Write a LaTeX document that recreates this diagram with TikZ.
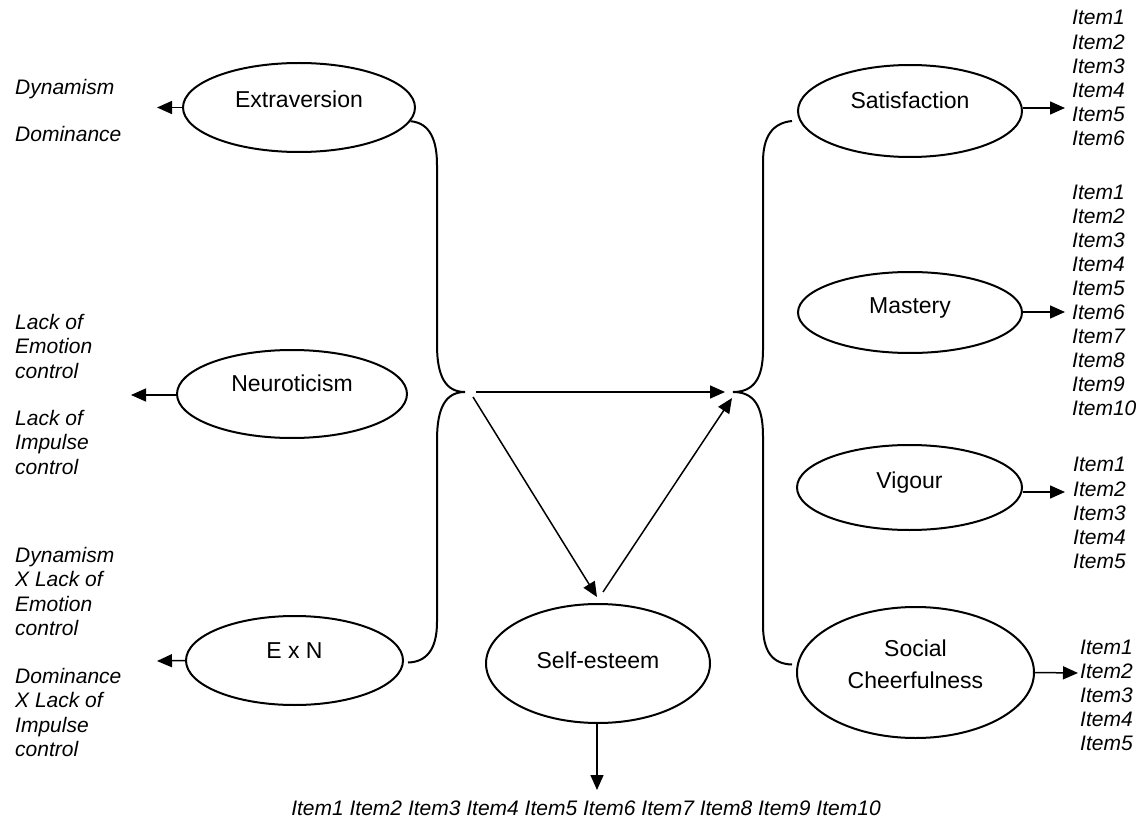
\documentclass[tikz,border=0pt]{standalone}
\usepackage{fontspec}
\setmainfont{Liberation Sans}
\usetikzlibrary{shapes.geometric,arrows.meta,calc}
\begin{document}
\begin{tikzpicture}[x=1pt,y=-1pt,
  latent/.style={ellipse,draw,line width=2pt,inner sep=0pt,align=center,font=\fontsize{23}{32}\selectfont},
  tshift/.style={text height=16.5pt,text depth=#1},
  ind/.style={inner sep=0pt,anchor=north west,align=left,font=\fontsize{21}{24.2}\selectfont\itshape},
  arr/.style={line width=1.5pt,-{Triangle[length=15pt,width=13pt]}},
  brace/.style={line width=2pt}]
\useasboundingbox (0,0) rectangle (1136,824);

% latent variables
\node[latent,tshift=17.1pt,minimum width=232pt,minimum height=89pt] (extra) at (299,107.5) {Extraversion};
\node[latent,tshift=22.1pt,minimum width=230pt,minimum height=88pt] (neuro) at (292,394) {Neuroticism};
\node[latent,tshift=21.1pt,minimum width=217pt,minimum height=89pt] (exn) at (294.5,660.5) {E x N};
\node[latent,tshift=7.1pt,minimum width=224pt,minimum height=119pt] (self) at (598,663.5) {Self-esteem};
\node[latent,tshift=22.1pt,minimum width=224pt,minimum height=92pt] (sat) at (910,111) {Satisfaction};
\node[latent,tshift=15.1pt,minimum width=224pt,minimum height=81pt] (mast) at (910,312.5) {Mastery};
\node[latent,tshift=15.1pt,minimum width=225pt,minimum height=85pt] (vig) at (909.5,487.5) {Vigour};
\node[latent,minimum width=237pt,minimum height=131pt] (soc) at (915.5,672.5) {Social\\Cheerfulness\rule[-17pt]{0pt}{17pt}};

% indicator labels, left
\node[ind] (e1) at (15,79.3) {Dynamism};
\node[ind] (e2) at (15,126.3) {Dominance};
\node[ind] (n1) at (15,314.3) {Lack of\\Emotion\\control};
\node[ind] (n2) at (15,410.3) {Lack of\\Impulse\\control};
\node[ind] (x1) at (15,547.3) {Dynamism\\X Lack of\\Emotion\\control};
\node[ind] (x2) at (15,668.3) {Dominance\\X Lack of\\Impulse\\control};

% indicator labels, right
\node[ind] (satI) at (1072,10.3) {Item1\\Item2\\Item3\\Item4\\Item5\\Item6};
\node[ind,font=\fontsize{21}{23.9}\selectfont\itshape] (mastI) at (1072,185.3) {Item1\\Item2\\Item3\\Item4\\Item5\\Item6\\Item7\\Item8\\Item9\\Item10};
\node[ind] (vigI) at (1073,457.3) {Item1\\Item2\\Item3\\Item4\\Item5};
\node[ind,font=\fontsize{21}{24}\selectfont\itshape] (socI) at (1080,640.3) {Item1\\Item2\\Item3\\Item4\\Item5};
\node[ind,anchor=north] (selfI) at (586,800.3) {Item1 Item2 Item3 Item4 Item5 Item6 Item7 Item8 Item9 Item10};

% arrow end points
\coordinate (extraT) at (157,107.5);
\coordinate (neuroT) at (131,395);
\coordinate (exnT) at (157,661);
\coordinate (satT) at (1065,108);
\coordinate (mastT) at (1065,312);
\coordinate (vigT) at (1065,492);
\coordinate (socT) at (1078,673);
\coordinate (selfT) at (597,790);

\draw[arr] (extra.west) -- (extraT);
\draw[arr] (neuro.west |- neuroT) -- (neuroT);
\draw[arr] (exn.west) -- (exnT);
\draw[arr] (sat.east |- satT) -- (satT);
\draw[arr] (mast.east |- mastT) -- (mastT);
\draw[arr] (vig.east |- vigT) -- (vigT);
\draw[arr] (soc.east) -- (socT);
\draw[arr] (self.south -| selfT) -- (selfT);

% braces
\coordinate (lt) at (465,392);
\coordinate (rt) at (733,392);
\draw[brace] (extra.-7) .. controls (430,123) and (437,140) .. (437,165) -- (437,345)
  .. controls (437,377) and (446,392) .. (lt)
  .. controls (446,392) and (437,407) .. (437,440) -- (437,622)
  .. controls (437,650) and (426,662) .. ($(exn.east)+(4,2)$);
\draw[brace] ($(sat.west)+(-5,10)$) .. controls (772,123) and (763,137) .. (763,162) -- (763,350)
  .. controls (763,378) and (754,392) .. (rt)
  .. controls (754,392) and (763,406) .. (763,436) -- (763,625)
  .. controls (763,651) and (772,664) .. ($(soc.west)+(-4,-8)$);

% paths between the braces and self-esteem
\draw[arr] ($(lt)+(11,0)$) -- ($(rt)+(-8,0)$);
\draw[arr] ($(lt)+(8,5)$) -- ($(self.north)+(-1,-6)$);
\draw[arr] ($(self.north)+(5,-11)$) -- ($(rt)+(-1,6)$);
\end{tikzpicture}
\end{document}
